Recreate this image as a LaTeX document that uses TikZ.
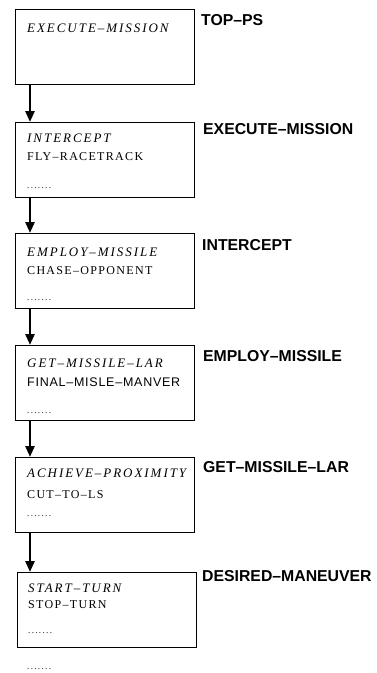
\documentclass[tikz,border=0pt]{standalone}
\usepackage{fontspec}
\setmainfont{Liberation Serif}
\setsansfont{Liberation Sans}
\usepackage{tikz}
\usetikzlibrary{arrows.meta}

\tikzset{
  frame/.style={draw, line width=0.8pt, minimum width=179pt, minimum height=75pt,
    anchor=north west, inner sep=0pt},
  goal/.style={anchor=west, inner sep=0pt, font=\fontsize{13}{13}\selectfont\itshape\addfontfeature{LetterSpace=15}},
  act/.style={anchor=west, inner sep=0pt, font=\fontsize{12}{12}\selectfont\addfontfeature{LetterSpace=11}},
  actsf/.style={anchor=west, inner sep=0pt, font=\fontsize{12.5}{12.5}\selectfont\sffamily\addfontfeature{LetterSpace=6}},
  more/.style={anchor=west, inner sep=0pt, font=\fontsize{9}{9}\selectfont\addfontfeature{LetterSpace=15}},
  ctx/.style={anchor=west, inner sep=0pt, font=\fontsize{15.8}{15.8}\selectfont\sffamily\bfseries},
  flow/.style={line width=2.6pt, -{Triangle[width=9pt,length=11pt]}}
}

\begin{document}
\begin{tikzpicture}[x=1pt,y=-1pt]
\useasboundingbox (0,0) rectangle (376,673);

% Stack of boxes
\foreach \n/\x/\y in {1/15/9, 2/15/122, 3/15/233, 4/15/345, 5/15/457, 6/17/572} {
    \node[frame] (b\n) at (\x,\y) {};
}

% Arrows between boxes
\foreach \a/\b in {1/2, 2/3, 3/4, 4/5, 5/6} {
    \draw[flow] ([xshift=15pt]b\a.south west) -- ([xshift=15pt]b\a.south west |- b\b.north);
}

% Box contents
\node[goal] (g1) at (27,28) {EXECUTE–MISSION};

\node[goal] (g2) at (27,138) {INTERCEPT};
\node[act] (a2) at (27,157) {FLY–RACETRACK};
\node[more] (m2) at (27,188) {.......};

\node[goal] (g3) at (27,252) {EMPLOY–MISSILE};
\node[act] (a3) at (27,271) {CHASE–OPPONENT};
\node[more] (m3) at (27,300) {.......};

\node[goal] (g4) at (27,363) {GET–MISSILE–LAR};
\node[actsf] (a4) at (27,382) {FINAL–MISLE–MANVER};
\node[more] (m4) at (27,413) {.......};

\node[goal] (g5) at (27,473) {ACHIEVE–PROXIMITY};
\node[act] (a5) at (27,495) {CUT–TO–LS};
\node[more] (m5) at (27,516) {.......};

\node[goal] (g6) at (28,588) {START–TURN};
\node[act] (a6) at (28,605) {STOP–TURN};
\node[more] (m6) at (28,633) {.......};

\node[more] (tail) at (27,669) {.......};

% Context labels
\node[ctx] (c1) at (201,20) {TOP–PS};
\node[ctx] (c2) at (203,129) {EXECUTE–MISSION};
\node[ctx] (c3) at (202,245) {INTERCEPT};
\node[ctx] (c4) at (203,356) {EMPLOY–MISSILE};
\node[ctx] (c5) at (203,467) {GET–MISSILE–LAR};
\node[ctx] (c6) at (202,576) {DESIRED–MANEUVER};
\end{tikzpicture}
\end{document}
